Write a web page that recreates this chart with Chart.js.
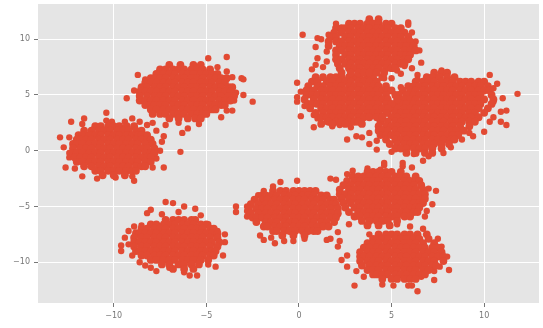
<!DOCTYPE html>
<html>
<head>
<meta charset="utf-8">
<script src="https://cdn.jsdelivr.net/npm/chart.js@4"></script>
<style>
html,body{margin:0;padding:0;background:#fff}
canvas{display:block;filter:blur(.45px)}
</style>
</head>
<body>
<canvas id="chart" width="543" height="328"></canvas>
<script>
var xTicks = [-10, -5, 0, 5, 10];
var yTicks = [-10, -5, 0, 5, 10];

// each row: y value, then the x values read along that row
var clusterA = [
[7.7,-7,-6.4,-5.7,-5.3],
[7.3,-7.5,-7.2,-6.8,-6.5,-6.2,-5.8,-5.5,-5.2,-4.8],
[6.9,-7.7,-7.3,-7,-6.7,-6.3,-6,-5.7,-5.3,-5,-4.7,-4.4],
[6.5,-8,-7.8,-7.5,-7.2,-6.8,-6.5,-6.2,-5.8,-5.5,-5.2,-4.8,-4.5,-4.2,-3.9],
[6.1,-8.3,-8,-7.7,-7.3,-7,-6.7,-6.3,-6,-5.7,-5.3,-5,-4.7,-4.3,-4],
[5.7,-8.5,-8.2,-7.8,-7.5,-7.2,-6.8,-6.5,-6.2,-5.8,-5.5,-5.2,-4.8,-4.5,-4.2,-3.8,-3.6],
[5.3,-8.6,-8.3,-8,-7.7,-7.3,-7,-6.7,-6.3,-6,-5.7,-5.3,-5,-4.7,-4.3,-4,-3.7],
[4.9,-8.6,-8.2,-7.8,-7.5,-7.2,-6.8,-6.5,-6.2,-5.8,-5.5,-5.2,-4.8,-4.5,-4.2,-3.8,-3.5],
[4.5,-8.6,-8.3,-8,-7.7,-7.3,-7,-6.7,-6.3,-6,-5.7,-5.3,-5,-4.7,-4.3,-4,-3.7],
[4.1,-8.3,-8,-7.8,-7.5,-7.2,-6.8,-6.5,-6.2,-5.8,-5.5,-5.2,-4.8,-4.5,-4.2,-4],
[3.7,-8,-7.7,-7.3,-7,-6.7,-6.3,-6,-5.7,-5.3,-5,-4.7,-4.5],
[3.3,-7.9,-7.5,-7.2,-6.8,-6.5,-6.2,-5.8,-5.5,-5.2,-5],
[2.9,-7,-6.5,-6,-5.6,-5.3]
];
var strayA = [[-9.3,4.7],[-8.9,5.4],[-8.7,6.8],[-8.3,6.4],[-7.7,6.9],[-4.9,8.3],[-3.9,8.4],[-4.4,7.5],[-3.9,7.1],[-3.6,6.6],[-3.1,6.5],[-3,6.4],[-3.4,5.2],[-3,5],[-2.5,4.4],[-3.5,4.5],[-3.6,3.6],[-3.9,3.6],[-4.2,3],[-5.4,2.4],[-6,2],[-6.3,1.6],[-6.5,2.5],[-7.2,2.3],[-7.9,2.5],[-6.4,-0.1]];

var clusterB = [
[2.2,-11,-10.7,-10.3,-10,-9.7,-9.3,-8.9],
[1.8,-11.6,-11.2,-10.8,-10.5,-10.2,-9.8,-9.5,-9.2,-8.8,-8.5],
[1.4,-11.9,-11.7,-11.3,-11,-10.7,-10.3,-10,-9.7,-9.3,-9,-8.7,-8.5,-8.2],
[1,-12,-11.8,-11.5,-11.2,-10.8,-10.5,-10.2,-9.8,-9.5,-9.2,-8.8,-8.5,-8.2,-8],
[0.6,-12.2,-12,-11.7,-11.3,-11,-10.7,-10.3,-10,-9.7,-9.3,-9,-8.7,-8.3,-7.9],
[0.2,-12.2,-11.8,-11.5,-11.2,-10.8,-10.5,-10.2,-9.8,-9.5,-9.2,-8.8,-8.5,-8.2,-7.8],
[-0.2,-12.2,-12,-11.7,-11.3,-11,-10.7,-10.3,-10,-9.7,-9.3,-9,-8.7,-8.3,-8,-7.8],
[-0.6,-12.1,-11.8,-11.5,-11.2,-10.8,-10.5,-10.2,-9.8,-9.5,-9.2,-8.8,-8.5,-8.2,-8],
[-1,-12,-11.7,-11.3,-11,-10.7,-10.3,-10,-9.7,-9.3,-9,-8.7,-8.3,-8],
[-1.4,-11.6,-11.2,-10.8,-10.5,-10.2,-9.8,-9.5,-9.2,-8.8,-8.5,-8.3],
[-1.8,-11,-10.7,-10.3,-10,-9.7,-9.3,-9,-8.8],
[-2.2,-10.6,-10,-9.4]
];
var strayB = [[-12.9,1.2],[-12.7,0.3],[-12.4,1.2],[-12.3,2.6],[-11.6,2.9],[-11.7,2.4],[-10.4,3.4],[-10.4,2.7],[-10.1,2.6],[-9.4,2.6],[-9,2.9],[-8.6,2.6],[-8.2,2.3],[-7.7,1.8],[-7.3,1.3],[-7.4,0.8],[-7.5,0],[-7.7,-0.7],[-12.4,-0.2],[-12.4,-0.6],[-7.3,-1.5],[-12.6,-1.5],[-11.7,-2.3],[-10.9,-2.5],[-8.9,-2.7],[-9.9,-2.4],[-12.1,-1.6],[-9,-2.3],[-7.9,-1.5]];

var clusterC = [
[-6.2,-7.2,-6.8,-6.5,-6.2,-5.8,-5.6],
[-6.6,-8,-7.7,-7.3,-7,-6.7,-6.3,-6,-5.7,-5.3,-5],
[-7,-8.5,-8.2,-7.8,-7.5,-7.2,-6.8,-6.5,-6.2,-5.8,-5.5,-5.2,-4.8,-4.6],
[-7.4,-8.8,-8.6,-8.3,-8,-7.7,-7.3,-7,-6.7,-6.3,-6,-5.7,-5.3,-5,-4.7,-4.4],
[-7.8,-8.9,-8.5,-8.2,-7.8,-7.5,-7.2,-6.8,-6.5,-6.2,-5.8,-5.5,-5.2,-4.8,-4.4],
[-8.2,-8.9,-8.6,-8.3,-8,-7.7,-7.3,-7,-6.7,-6.3,-6,-5.7,-5.3,-5,-4.7,-4.3],
[-8.6,-8.9,-8.5,-8.2,-7.8,-7.5,-7.2,-6.8,-6.5,-6.2,-5.8,-5.5,-5.2,-4.8,-4.4],
[-9,-8.8,-8.6,-8.3,-8,-7.7,-7.3,-7,-6.7,-6.3,-6,-5.7,-5.3,-5,-4.7,-4.5],
[-9.4,-8.5,-8.2,-7.8,-7.5,-7.2,-6.8,-6.5,-6.2,-5.8,-5.5,-5.2,-4.8,-4.6],
[-9.8,-8,-7.7,-7.3,-7,-6.7,-6.3,-6,-5.7,-5.3,-4.9],
[-10.2,-7.4,-7,-6.5,-6.2,-5.8,-5.4],
[-10.6,-6.8,-6.2,-5.7]
];
var strayC = [[-7.2,-4.6],[-6.8,-4.7],[-6.2,-5],[-5.6,-5.2],[-6.5,-5.5],[-8.2,-5.6],[-8,-5.3],[-7.4,-5.7],[-5.3,-5.8],[-4.9,-6.6],[-4.4,-7.2],[-4,-7.5],[-4,-8.2],[-4.1,-9.4],[-4.5,-10.4],[-4.9,-10.2],[-5.5,-11.2],[-5.9,-11.2],[-6.2,-10.9],[-7.7,-10.8],[-8,-10.5],[-7,-10.5],[-8.3,-10.3],[-8.6,-10],[-9,-9.4],[-9.6,-8.5],[-9.6,-9],[-9.4,-7.8],[-9.2,-8.4],[-9.2,-7.2],[-8.9,-6.8],[-8.5,-6.7]];

var clusterD = [
[-3.6,-1.4,-1,-0.7,-0.3,0,0.3,0.6,0.9],
[-4,-2,-1.8,-1.5,-1.2,-0.8,-0.5,-0.2,0.2,0.5,0.8,1.2,1.5],
[-4.4,-2.4,-2,-1.7,-1.3,-1,-0.7,-0.3,0,0.3,0.7,1,1.3,1.7,1.9],
[-4.8,-2.6,-2.2,-1.8,-1.5,-1.2,-0.8,-0.5,-0.2,0.2,0.5,0.8,1.2,1.5,1.8,2],
[-5.2,-2.7,-2.3,-2,-1.7,-1.3,-1,-0.7,-0.3,0,0.3,0.7,1,1.3,1.7,2.1],
[-5.6,-2.6,-2.2,-1.8,-1.5,-1.2,-0.8,-0.5,-0.2,0.2,0.5,0.8,1.2,1.5,1.8,2.1],
[-6,-2.5,-2.3,-2,-1.7,-1.3,-1,-0.7,-0.3,0,0.3,0.7,1,1.3,1.7,2],
[-6.4,-2.3,-1.8,-1.5,-1.2,-0.8,-0.5,-0.2,0.2,0.5,0.8,1.2,1.5,1.9],
[-6.8,-1.9,-1.7,-1.3,-1,-0.7,-0.3,0,0.3,0.7,1,1.3,1.6],
[-7.2,-1.4,-1.2,-0.8,-0.5,-0.2,0.2,0.5,0.8,1],
[-7.6,-0.9,-0.3,0.3]
];
var strayD = [[-1.4,-3.2],[-1,-2.8],[-0.1,-2.7],[1.7,-2.5],[2,-2.6],[2.1,-5.7],[2.7,-6.6],[2.1,-7.3],[2.2,-8.1],[2.1,-8.6],[1.5,-8],[1.7,-7.9],[0.3,-7.9],[-0.3,-8.1],[-0.8,-8.1],[-1.3,-8.3],[-1.5,-7.8],[-3.4,-5],[-3.4,-5.5],[-2.8,-5],[-2.8,-5.4],[-2.8,-5.9],[-2.2,-4],[-1.9,-3.6],[-2.1,-7.6],[-1.9,-8]];

var clusterE = [
[-1.9,3.7,4,4.3,4.7,5,5.5],
[-2.3,2.9,3.2,3.5,3.8,4.2,4.5,4.8,5.2,5.5,5.8,6.3],
[-2.7,2.6,3,3.3,3.7,4,4.3,4.7,5,5.3,5.7,6,6.3,6.5],
[-3.1,2.4,2.8,3.2,3.5,3.8,4.2,4.5,4.8,5.2,5.5,5.8,6.2,6.6],
[-3.5,2.2,2.7,3,3.3,3.7,4,4.3,4.7,5,5.3,5.7,6,6.3,6.7],
[-3.9,2.2,2.5,2.8,3.2,3.5,3.8,4.2,4.5,4.8,5.2,5.5,5.8,6.2,6.5,6.8],
[-4.3,2.3,2.7,3,3.3,3.7,4,4.3,4.7,5,5.3,5.7,6,6.3,6.8],
[-4.7,2.4,2.8,3.2,3.5,3.8,4.2,4.5,4.8,5.2,5.5,5.8,6.2,6.5,6.7],
[-5.1,2.5,3,3.3,3.7,4,4.3,4.7,5,5.3,5.7,6,6.3,6.5],
[-5.5,2.7,3.2,3.5,3.8,4.2,4.5,4.8,5.2,5.5,5.8,6.2,6.4],
[-5.9,3,3.3,3.7,4,4.3,4.7,5,5.3,5.7,6],
[-6.3,3.4,3.8,4.2,4.5,4.8,5.3],
[-6.7,3.7,4.3,4.9]
];
var strayE = [[2.6,-2.1],[2.9,-1.8],[3.7,-1.6],[4.4,-1.7],[4.6,-1.3],[5.6,-1.4],[6.1,-1.5],[7,-3.4],[7.4,-3.6],[7.2,-4.8],[6.9,-5.4],[6.8,-5.9],[6.7,-7],[3.8,-7.5],[5.3,-6.6],[6.6,-4.2],[4.6,-1.1],[5.6,-1.1],[6.7,-0.9]];

var clusterF = [
[-7.5,4.3,4.7,5,5.3,5.7,6,6.4,6.9],
[-7.9,4,4.2,4.5,4.8,5.2,5.5,5.8,6.2,6.5,7],
[-8.3,3.7,4,4.3,4.7,5,5.3,5.7,6,6.3,6.7,7.3],
[-8.7,3.5,3.8,4.2,4.5,4.8,5.2,5.5,5.8,6.2,6.5,6.8,7.2,7.5],
[-9.1,3.3,3.7,4,4.3,4.7,5,5.3,5.7,6,6.3,6.7,7,7.3,7.7],
[-9.5,3.3,3.5,3.8,4.2,4.5,4.8,5.2,5.5,5.8,6.2,6.5,6.8,7.2,7.5,7.8],
[-9.9,3.3,3.7,4,4.3,4.7,5,5.3,5.7,6,6.3,6.7,7,7.3,7.8],
[-10.3,3.4,3.8,4.2,4.5,4.8,5.2,5.5,5.8,6.2,6.5,6.8,7.2,7.4],
[-10.7,3.7,4,4.3,4.7,5,5.3,5.7,6,6.3,6.7,7],
[-11.1,4,4.2,4.5,4.8,5.2,5.5,5.8,6.2,6.5,6.8],
[-11.5,4.5,5,5.3,5.7,6,6.3]
];
var strayF = [[6,-6.8],[7.5,-7.9],[7.7,-8.6],[8,-9.5],[8.1,-10.7],[7.6,-10.4],[7.3,-10.8],[7.3,-11.6],[6.4,-12.6],[6.1,-12.1],[5.9,-12.1],[5.1,-12.1],[4.5,-12],[3,-12.1],[2.6,-10.4],[2.3,-9.8],[2.6,-9.4],[3.1,-10.8],[3.5,-11.3],[6.6,-11.3]];

var clusterG = [
[11.8,3.8,4.3],
[11.4,2.7,3,3.3,3.7,4,4.3,4.7,5],
[11,2,2.3,2.5,2.8,3.2,3.5,3.8,4.2,4.5,4.8,5.2,5.5],
[10.6,1.9,2.3,2.7,3,3.3,3.7,4,4.3,4.7,5,5.3,5.7],
[10.2,1.7,2,2.5,2.8,3.2,3.5,3.8,4.2,4.5,4.8,5.2,5.5,5.9],
[9.8,1.6,2,2.3,2.7,3,3.3,3.7,4,4.3,4.7,5,5.3,5.7,6],
[9.4,1.6,2.2,2.5,2.8,3.2,3.5,3.8,4.2,4.5,4.8,5.2,5.5,5.8,6.2],
[9,2,2.3,2.7,3,3.3,3.7,4,4.3,4.7,5,5.3,5.7,6,6.3],
[8.6,2,2.5,2.8,3.2,3.5,3.8,4.2,4.5,4.8,5.2,5.5,5.8,6],
[8.2,2,2.3,2.7,3,3.3,3.7,4,4.3,4.7,5,5.3,5.7,5.9],
[7.8,2.1,2.5,2.8,3.2,3.5,3.8,4.2,4.5,4.8,5.2,5.5,5.7],
[7.4,2.2,2.7,3,3.3,3.7,4,4.3,4.7,5,5.2],
[7,2.3,2.8,3.2,3.5,3.8,4.2,4.6]
];
var strayG = [[0.2,10.4],[2,11.4],[1,10.1],[0.9,9.3],[1.2,10],[1.6,10.4],[1,8.3],[1.5,8.9],[0.9,7.7],[0.7,7.3],[1.3,7.5],[1.5,8],[5.9,11.3],[6.1,10.6],[6.3,9.8],[6.5,9],[6.6,7.9],[6.1,7.4],[5.7,7.6],[5.3,7.2],[5.5,6.9],[5,6.5],[4.6,6.5],[6.4,6.8],[6.4,6.4],[5.9,11.5]];

var clusterH = [
[6.6,0.9,1.3,1.7,2,2.3,2.7,3,3.3,3.7,4,4.5],
[6.2,0.7,1,1.5,1.8,2.2,2.5,2.8,3.2,3.5,3.8,4.2],
[5.8,0.5,1,1.3,1.7,2,2.3,2.7,3,3.3,3.7,4,4.3,4.7],
[5.4,0.4,0.8,1.2,1.5,1.8,2.2,2.5,2.8,3.2,3.5,3.8,4.2,4.5,4.8,5],
[5,0.4,0.7,1,1.3,1.7,2,2.3,2.7,3,3.3,3.7,4,4.3,4.7,5.2],
[4.6,0.3,0.8,1.2,1.5,1.8,2.2,2.5,2.8,3.2,3.5,3.8,4.2,4.5,4.8,5.3],
[4.2,0.5,0.7,1,1.3,1.7,2,2.3,2.7,3,3.3,3.7,4,4.3,4.7,5],
[3.8,0.6,1.2,1.5,1.8,2.2,2.5,2.8,3.2,3.5,3.8,4.2,4.5,4.8],
[3.4,0.9,1.3,1.7,2,2.3,2.7,3,3.3,3.7,4,4.3,4.7],
[3,1.2,1.5,1.8,2.2,2.5,2.8,3.2,3.5,3.8,4.2,4.5],
[2.6,1.6,2,2.3,2.7,3,3.2],
[2.4,1.2,1.8,2.5,3.4]
];
var strayH = [[-0.1,6.1],[0.1,5.3],[-0.1,4.8],[-0.1,4.4],[0.3,4],[0.1,3.1],[0.8,3.2],[1,2.9],[0.8,2.1],[1.5,2.6],[1.8,2.2],[2.2,2.3],[2.8,2.1],[2.6,1],[3.1,1.3],[3.4,1.2],[3.8,0.6],[4.2,0.1]];

var clusterI = [
[7,7.3,7.7,8],
[6.6,6.9,7.2,7.6,8,8.4],
[6.2,6.3,6.7,7,7.3,7.7,8,8.3,8.7,9,9.3,9.7,10],
[5.8,5.9,6.2,6.5,6.8,7.2,7.5,7.8,8.2,8.5,8.8,9.2,9.5,9.8,10.2],
[5.4,5.6,6,6.3,6.7,7,7.3,7.7,8,8.3,8.7,9,9.3,9.7,10,10.3],
[5,5.4,5.8,6.2,6.5,6.8,7.2,7.5,7.8,8.2,8.5,8.8,9.2,9.5,9.8,10.4],
[4.6,5.4,5.7,6,6.3,6.7,7,7.3,7.7,8,8.3,8.7,9,9.3,9.7,10,10.5],
[4.2,5.2,5.5,5.8,6.2,6.5,6.8,7.2,7.5,7.8,8.2,8.5,8.8,9.2,9.5,9.8,10.4],
[3.8,5,5.3,5.7,6,6.3,6.7,7,7.3,7.7,8,8.3,8.7,9,9.3,9.7,10.2],
[3.4,4.8,5.2,5.5,5.8,6.2,6.5,6.8,7.2,7.5,7.8,8.2,8.5,8.8,9.2,9.5,10],
[3,4.5,5,5.3,5.7,6,6.3,6.7,7,7.3,7.7,8,8.3,8.7,9,9.3,9.7],
[2.6,4.4,4.8,5.2,5.5,5.8,6.2,6.5,6.8,7.2,7.5,7.8,8.2,8.5,8.8,9.2,9.5],
[2.2,4.3,4.7,5,5.3,5.7,6,6.3,6.7,7,7.3,7.7,8,8.3,8.7,9.2],
[1.8,4.3,4.5,4.8,5.2,5.5,5.8,6.2,6.5,6.8,7.2,7.5,7.8,8.2,8.5,8.9],
[1.4,4.4,4.7,5,5.3,5.7,6,6.3,6.7,7,7.3,7.7,8,8.3,8.6],
[1,4.7,5.2,5.5,5.8,6.2,6.5,6.8,7.2,7.5,7.8,8.2,8.4],
[0.6,4.9,5.3,5.7,6,6.3,6.7,7,7.3,7.7,8.1],
[0.2,5.2,5.5,5.8,6.2,6.5,6.8,7.2,7.7],
[-0.2,5.8,6.3,6.8,7.2]
];
var strayI = [[10.3,6.8],[10.7,6],[10.5,5.6],[11,4.7],[11.8,5.1],[10.5,4.4],[11.2,3.6],[10.9,3.5],[10.5,3],[10.9,2.6],[11.2,2.3],[10.3,2.6],[10,1.7],[9.4,1.3],[9.2,1.6],[8.8,1],[8.2,0.3],[7.8,-0.2],[7,-0.5],[6.2,-0.3],[5,-0.1],[3.8,1.6],[4.2,0.9],[5.5,5.7],[7.7,7.2]];

var clusters = [clusterA, clusterB, clusterC, clusterD, clusterE, clusterF, clusterG, clusterH, clusterI];
var strays = [strayA, strayB, strayC, strayD, strayE, strayF, strayG, strayH, strayI];

function rowPoints(rows) {
	var pts = [];
	rows.forEach(function (row) {
		for (var i = 1; i < row.length; i++) pts.push({ x: row[i], y: row[0] });
	});
	return pts;
}

function pairPoints(list) {
	return list.map(function (p) { return { x: p[0], y: p[1] }; });
}

var plotBackground = {
	id: 'plotBackground',
	beforeDraw: function (chart) {
		var a = chart.chartArea;
		chart.ctx.fillStyle = '#e5e5e5';
		chart.ctx.fillRect(a.left, a.top, a.width, a.height);
	}
};

function axisOptions(ticks) {
	return {
		type: 'linear',
		border: { display: false },
		grid: { color: '#ffffff', lineWidth: 1, tickColor: '#777777', tickLength: 4 },
		ticks: {
			color: '#777777',
			font: { family: 'DejaVu Sans', size: 8 },
			padding: 4,
			maxRotation: 0,
			callback: function (v) { return String(v).replace('-', '\u2212'); }
		},
		afterBuildTicks: function (axis) {
			axis.ticks = ticks.map(function (v) { return { value: v }; });
		}
	};
}

var xAxis = axisOptions(xTicks);
xAxis.min = -14.09;
xAxis.max = 12.96;
xAxis.afterFit = function (axis) { axis.height = 25; axis.paddingLeft = 0; axis.paddingRight = 0; };
var yAxis = axisOptions(yTicks);
yAxis.min = -13.66;
yAxis.max = 13.16;
yAxis.afterFit = function (axis) { axis.width = 38; axis.paddingTop = 0; axis.paddingBottom = 0; };

var datasets = [];
clusters.forEach(function (rows) {
	datasets.push({ data: rowPoints(rows), backgroundColor: '#E24A33', borderWidth: 0, pointRadius: 3.9 });
});
strays.forEach(function (list) {
	datasets.push({ data: pairPoints(list), backgroundColor: '#E24A33', borderWidth: 0, pointRadius: 3.2 });
});

new Chart(document.getElementById('chart').getContext('2d'), {
	type: 'scatter',
	plugins: [plotBackground],
	data: { datasets: datasets },
	options: {
		responsive: false,
		animation: false,
		layout: { padding: { left: 0, right: 2, top: 4, bottom: 0 } },
		scales: { x: xAxis, y: yAxis },
		plugins: { legend: { display: false }, tooltip: { enabled: false } }
	}
});
</script>
</body>
</html>
